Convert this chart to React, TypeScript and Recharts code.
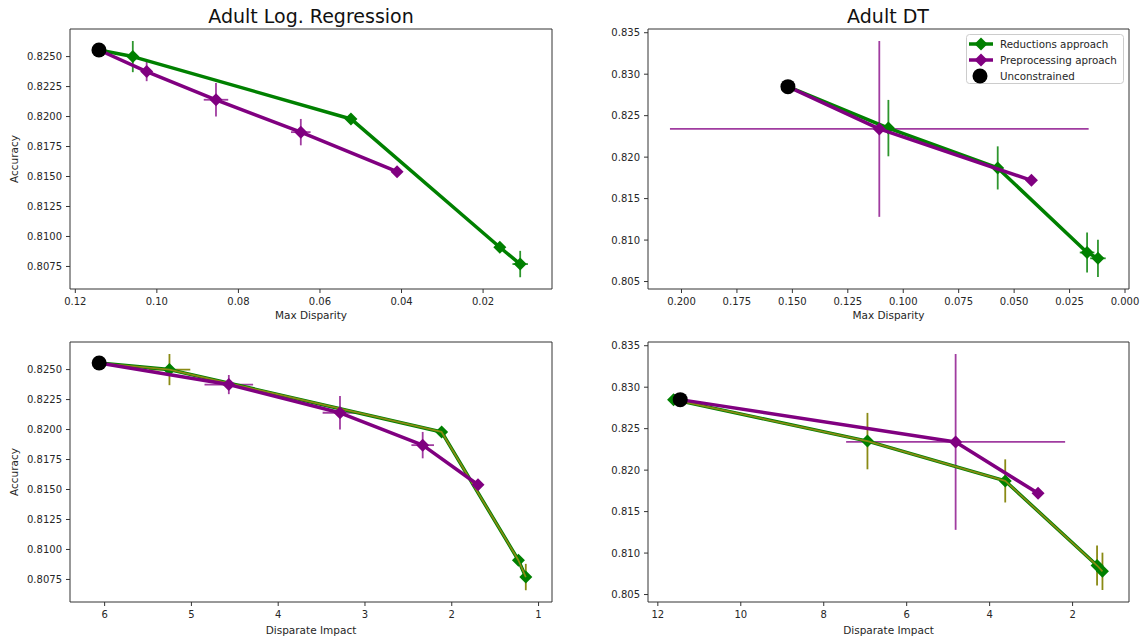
import React from 'react';
import { ScatterChart, Scatter, XAxis, YAxis, ErrorBar, ReferenceLine } from 'recharts';

// ---------- Adult Log. Regression ----------
const lrRedAcc = [0.82555, 0.825, 0.8198, 0.8091, 0.8077];
const lrRedAccErr = [0, 0.0013, 0.0003, 0.0003, 0.0011];
const lrRedMaxDisp = [0.1142, 0.1059, 0.0524, 0.0159, 0.0109];
const lrRedMaxDispErr = [0, 0.0006, 0.0006, 0.0008, 0.0019];
const lrRedDI = [6.063, 5.253, 2.117, 1.232, 1.147];
const lrRedDIErr = [0, 0.24, 0.03, 0.03, 0.03];

const lrPreAcc = [0.82555, 0.82375, 0.8214, 0.8187, 0.8154];
const lrPreAccErr = [0, 0.0008, 0.0014, 0.0011, 0.0002];
const lrPreMaxDisp = [0.1142, 0.1025, 0.0855, 0.0647, 0.0411];
const lrPreMaxDispErr = [0, 0.0005, 0.003, 0.0024, 0.0003];
const lrPreDI = [6.063, 4.569, 3.288, 2.335, 1.698];
const lrPreDIErr = [0, 0.28, 0.2, 0.13, 0.03];

const lrUnconAcc = [0.82555];
const lrUnconMaxDisp = [0.1142];
const lrUnconDI = [6.063];

// ---------- Adult DT ----------
const dtRedAcc = [0.8285, 0.8235, 0.8187, 0.8085, 0.8078];
const dtRedAccErr = [0, 0.0034, 0.0026, 0.0024, 0.00225];
const dtRedMaxDisp = [0.152, 0.1067, 0.0574, 0.0171, 0.0122];
const dtRedMaxDispErr = [0, 0.001, 0.001, 0.0033, 0.0035];
const dtRedDI = [11.62, 6.946, 3.624, 1.41, 1.28];
const dtRedDIErr = [0, 0.05, 0.05, 0.05, 0.05];

const dtPreAcc = [0.8285, 0.8234, 0.8172];
const dtPreAccErr = [0, 0.0106, 0.0003];
const dtPreMaxDisp = [0.152, 0.1108, 0.0422];
const dtPreMaxDispErr = [0, 0.0944, 0.001];
const dtPreDI = [11.46, 4.82, 2.833];
const dtPreDIErr = [0, 2.64, 0.05];

const dtUnconAcc = [0.8285];
const dtUnconMaxDisp = [0.152];
const dtUnconDI = [11.46];

// ---------- ticks ----------
const lrAccTicks = [0.8075, 0.81, 0.8125, 0.815, 0.8175, 0.82, 0.8225, 0.825];
const dtAccTicks = [0.805, 0.81, 0.815, 0.82, 0.825, 0.83, 0.835];
const lrMaxDispTicks = [0.12, 0.1, 0.08, 0.06, 0.04, 0.02];
const dtMaxDispTicks = [0.2, 0.175, 0.15, 0.125, 0.1, 0.075, 0.05, 0.025, 0];
const lrDITicks = [6, 5, 4, 3, 2, 1];
const dtDITicks = [12, 10, 8, 6, 4, 2];

const titles = ['Adult Log. Regression', 'Adult DT'];
const legendNames = ['Reductions approach', 'Preprocessing aproach', 'Unconstrained'];

const GREEN = '#008000';
const PURPLE = '#800080';
const GREEN_ERR = '#2e962e';
const PURPLE_ERR = '#a03ca0';
const OLIVE = '#8a8a14';
const FONT = "'DejaVu Sans', sans-serif";
const TEXT = '#262626';
const SPINE = '#333333';

type Pt = { x: number; y: number; ex: number; ey: number };
const build = (xs: number[], ys: number[], exs?: number[], eys?: number[]): Pt[] =>
  xs.map((x, i) => ({ x, y: ys[i], ex: exs ? exs[i] : 0, ey: eys ? eys[i] : 0 }));

const diamond = (color: string) => (p: any) => {
  const { cx, cy } = p;
  if (cx == null || cy == null) return <g />;
  const r = 6.5;
  return <path d={`M${cx},${cy - r}L${cx + r},${cy}L${cx},${cy + r}L${cx - r},${cy}Z`} fill={color} />;
};
const circle = (p: any) => {
  const { cx, cy } = p;
  if (cx == null || cy == null) return <g />;
  return <circle cx={cx} cy={cy} r={7.5} fill="#000" />;
};
const nothing = () => <g />;

type PanelProps = {
  left: number; top: number; height: number; marginTop: number; marginRight: number;
  yAxisWidth: number; xAxisHeight: number; labelOffset: number;
  xDomain: [number, number]; yDomain: [number, number];
  xTicks: number[]; yTicks: number[];
  xFmt: (v: number) => string; yFmt: (v: number) => string;
  xLabel: string; yLabel?: string;
  red: Pt[]; pre: Pt[]; uncon: Pt[]; olive: boolean;
};

const Panel = (p: PanelProps) => (
  <div style={{ position: 'absolute', left: p.left, top: p.top }}>
    <ScatterChart
      width={572}
      height={p.height}
      margin={{ top: p.marginTop, right: p.marginRight, bottom: 0, left: 0 }}
      style={{ fontFamily: FONT }}
    >
      <XAxis
        xAxisId="b"
        type="number"
        dataKey="x"
        domain={p.xDomain}
        allowDataOverflow
        reversed
        ticks={p.xTicks}
        interval={0}
        tickFormatter={p.xFmt}
        height={p.xAxisHeight}
        tickSize={4}
        tickMargin={5}
        stroke={SPINE}
        tick={{ fontSize: 10, fill: TEXT, fontFamily: FONT }}
        label={{ value: p.xLabel, position: 'insideBottom', offset: p.labelOffset, fill: TEXT, fontSize: 10.5, fontFamily: FONT }}
      />
      <YAxis
        yAxisId="l"
        type="number"
        dataKey="y"
        domain={p.yDomain}
        allowDataOverflow
        ticks={p.yTicks}
        interval={0}
        tickFormatter={p.yFmt}
        width={p.yAxisWidth}
        tickSize={4}
        tickMargin={4}
        stroke={SPINE}
        tick={{ fontSize: 10, fill: TEXT, fontFamily: FONT }}
        label={p.yLabel ? { value: p.yLabel, angle: -90, position: 'insideLeft', offset: 14, fill: TEXT, fontSize: 10.5, fontFamily: FONT, style: { textAnchor: 'middle' } } : undefined}
      />
      <ReferenceLine xAxisId="b" yAxisId="l" y={p.yDomain[1]} stroke={SPINE} strokeWidth={1} />
      <ReferenceLine xAxisId="b" yAxisId="l" x={p.xDomain[0]} stroke={SPINE} strokeWidth={1} />

      <Scatter
        xAxisId="b" yAxisId="l"
        data={p.red}
        fill={GREEN}
        line={{ stroke: GREEN, strokeWidth: 3.5, strokeLinejoin: 'round' }}
        shape={diamond(GREEN)}
        isAnimationActive={false}
      >
        {!p.olive && <ErrorBar dataKey="ey" direction="y" width={0} stroke={GREEN_ERR} strokeWidth={1.8} isAnimationActive={false} />}
        {!p.olive && <ErrorBar dataKey="ex" direction="x" width={0} stroke={GREEN_ERR} strokeWidth={1.8} isAnimationActive={false} />}
      </Scatter>
      {p.olive && (
        <Scatter
          xAxisId="b" yAxisId="l"
          data={p.red}
          fill={OLIVE}
          line={{ stroke: OLIVE, strokeWidth: 1.7, strokeLinejoin: 'round' }}
          shape={nothing}
          isAnimationActive={false}
        >
          <ErrorBar dataKey="ey" direction="y" width={0} stroke={OLIVE} strokeWidth={1.8} isAnimationActive={false} />
          <ErrorBar dataKey="ex" direction="x" width={0} stroke={OLIVE} strokeWidth={1.8} isAnimationActive={false} />
        </Scatter>
      )}
      <Scatter
        xAxisId="b" yAxisId="l"
        data={p.pre}
        fill={PURPLE}
        line={{ stroke: PURPLE, strokeWidth: 3.5, strokeLinejoin: 'round' }}
        shape={diamond(PURPLE)}
        isAnimationActive={false}
      >
        <ErrorBar dataKey="ey" direction="y" width={0} stroke={PURPLE_ERR} strokeWidth={1.8} isAnimationActive={false} />
        <ErrorBar dataKey="ex" direction="x" width={0} stroke={PURPLE_ERR} strokeWidth={1.8} isAnimationActive={false} />
      </Scatter>
      <Scatter xAxisId="b" yAxisId="l" data={p.uncon} fill="#000" shape={circle} isAnimationActive={false} />
    </ScatterChart>
  </div>
);

const Title = ({ text, cx }: { text: string; cx: number }) => (
  <div
    style={{
      position: 'absolute', left: cx - 200, top: 7, width: 400, textAlign: 'center',
      fontFamily: FONT, fontSize: 19, lineHeight: '19px', color: '#111',
    }}
  >
    {text}
  </div>
);

const LegendBox = () => {
  const rows = [44 - 34, 60 - 34, 76 - 34];
  const colors = [GREEN, PURPLE];
  return (
    <svg width={158} height={50} style={{ position: 'absolute', left: 966, top: 34 }}>
      <rect x={0.5} y={0.5} width={157} height={49} rx={3} fill="#fff" fillOpacity={0.85} stroke="#cccccc" />
      {colors.map((c, i) => (
        <g key={i}>
          <line x1={3} x2={27} y1={rows[i]} y2={rows[i]} stroke={c} strokeWidth={3.5} />
          {diamond(c)({ cx: 15, cy: rows[i] })}
        </g>
      ))}
      <circle cx={14} cy={rows[2]} r={7.5} fill="#000" />
      {legendNames.map((n, i) => (
        <text key={n} x={34} y={rows[i] + 3.7} fontSize={10.3} fill={TEXT} fontFamily={FONT}>
          {n}
        </text>
      ))}
    </svg>
  );
};

const f2 = (v: number) => v.toFixed(2);
const f3 = (v: number) => v.toFixed(3);
const f4 = (v: number) => v.toFixed(4);
const fi = (v: number) => String(Math.round(v));

export default function App() {
  return (
    <div style={{ position: 'absolute', left: 0, top: 0, width: 1144, height: 637, background: '#fff', overflow: 'hidden' }}>
      <Panel
        left={0} top={0} height={325} marginTop={29} marginRight={20} yAxisWidth={70} xAxisHeight={36} labelOffset={6}
        xDomain={[0.0031, 0.1213]} yDomain={[0.80562, 0.8273]}
        xTicks={lrMaxDispTicks} yTicks={lrAccTicks} xFmt={f2} yFmt={f4}
        xLabel="Max Disparity" yLabel="Accuracy"
        red={build(lrRedMaxDisp, lrRedAcc, lrRedMaxDispErr, lrRedAccErr)}
        pre={build(lrPreMaxDisp, lrPreAcc, lrPreMaxDispErr, lrPreAccErr)}
        uncon={build(lrUnconMaxDisp, lrUnconAcc)}
        olive={false}
      />
      <Panel
        left={572} top={0} height={325} marginTop={29} marginRight={15} yAxisWidth={76} xAxisHeight={36} labelOffset={6}
        xDomain={[-0.0018, 0.2151]} yDomain={[0.8041, 0.83545]}
        xTicks={dtMaxDispTicks} yTicks={dtAccTicks} xFmt={f3} yFmt={f3}
        xLabel="Max Disparity"
        red={build(dtRedMaxDisp, dtRedAcc, dtRedMaxDispErr, dtRedAccErr)}
        pre={build(dtPreMaxDisp, dtPreAcc, dtPreMaxDispErr, dtPreAccErr)}
        uncon={build(dtUnconMaxDisp, dtUnconAcc)}
        olive={false}
      />
      <Panel
        left={0} top={320} height={317} marginTop={22} marginRight={20} yAxisWidth={70} xAxisHeight={35} labelOffset={3}
        xDomain={[0.845, 6.399]} yDomain={[0.80562, 0.8273]}
        xTicks={lrDITicks} yTicks={lrAccTicks} xFmt={fi} yFmt={f4}
        xLabel="Disparate Impact" yLabel="Accuracy"
        red={build(lrRedDI, lrRedAcc, lrRedDIErr, lrRedAccErr)}
        pre={build(lrPreDI, lrPreAcc, lrPreDIErr, lrPreAccErr)}
        uncon={build(lrUnconDI, lrUnconAcc)}
        olive={true}
      />
      <Panel
        left={572} top={320} height={317} marginTop={22} marginRight={15} yAxisWidth={76} xAxisHeight={35} labelOffset={3}
        xDomain={[0.64, 12.237]} yDomain={[0.8041, 0.83545]}
        xTicks={dtDITicks} yTicks={dtAccTicks} xFmt={fi} yFmt={f3}
        xLabel="Disparate Impact"
        red={build(dtRedDI, dtRedAcc, dtRedDIErr, dtRedAccErr)}
        pre={build(dtPreDI, dtPreAcc, dtPreDIErr, dtPreAccErr)}
        uncon={build(dtUnconDI, dtUnconAcc)}
        olive={true}
      />
      <Title text={titles[0]} cx={311} />
      <Title text={titles[1]} cx={888} />
      <LegendBox />
    </div>
  );
}
